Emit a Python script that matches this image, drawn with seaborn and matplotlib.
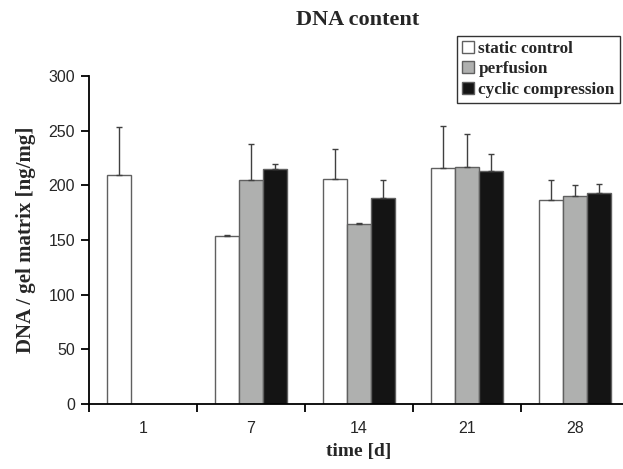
import matplotlib
matplotlib.use("Agg")
import matplotlib.pyplot as plt
import numpy as np
import pandas as pd
import seaborn as sns

# values
days = ["1", "7", "14", "21", "28"]
groups = ["static control", "perfusion", "cyclic compression"]
static_control = [209, 154, 206, 216, 187]
perfusion = [np.nan, 205, 165, 217, 190]
cyclic_compression = [np.nan, 215, 188, 213, 193]
static_err = [44, 1, 27, 38, 18]
perfusion_err = [np.nan, 33, 0.6, 30, 10]
cyclic_err = [np.nan, 4.5, 17, 16, 8]

values = [static_control, perfusion, cyclic_compression]
errors = [static_err, perfusion_err, cyclic_err]
colors = ["#ffffff", "#afb0af", "#141414"]

rows = []
for g, vals, errs in zip(groups, values, errors):
    for d, v, e in zip(days, vals, errs):
        rows.append({"time": d, "group": g, "dna": v, "err": e})
df = pd.DataFrame(rows).dropna()

sns.set_style("ticks")
serif = ["Liberation Serif", "DejaVu Serif"]
plt.rcParams["font.family"] = ["Liberation Sans", "DejaVu Sans"]

fig = plt.figure(figsize=(6.23, 4.69), dpi=100)
ax = fig.add_axes([89 / 623, 65 / 469, 540 / 623, 328 / 469])

sns.barplot(data=df, x="time", y="dna", hue="group", order=days,
            hue_order=groups, palette=colors, width=0.667, errorbar=None,
            edgecolor="#606060", linewidth=1.0, saturation=1, ax=ax)

# upward-only error bars
for g, cont in zip(groups, ax.containers):
    sub = df[df["group"] == g].copy()
    sub["pos"] = sub["time"].map(days.index)
    sub = sub.sort_values("pos")
    xs = [b.get_x() + b.get_width() / 2 for b in cont]
    hs = [b.get_height() for b in cont]
    ax.errorbar(xs, hs, yerr=[np.zeros(len(xs)), sub["err"].values],
                fmt="none", ecolor="#404040", elinewidth=1.0, capsize=2.5,
                capthick=1.0, zorder=1)

ax.set_ylim(0, 300)
ax.set_xlim(-0.5, 4.5)
ax.set_yticks(range(0, 301, 50))
ax.set_xticks(range(len(days)))
ax.set_xticklabels(days)
ax.set_xticks(np.arange(-0.5, 4.5, 1.0), minor=True)
ax.tick_params(axis="x", which="major", length=0, labelsize=11.5, pad=12)
ax.tick_params(axis="x", which="minor", length=6, width=1.3, color="black")
ax.tick_params(axis="y", length=6, width=1.3, color="black", labelsize=11.5,
               pad=4)
for s in ["top", "right"]:
    ax.spines[s].set_visible(False)
for s in ["left", "bottom"]:
    ax.spines[s].set_linewidth(1.3)
    ax.spines[s].set_color("black")

ax.set_xlabel("time [d]", family=serif, fontweight="bold", fontsize=14,
              labelpad=5)
ax.set_ylabel("DNA / gel matrix [ng/mg]", family=serif, fontweight="bold",
              fontsize=15, labelpad=9)
fig.text(358 / 623, 1 - 20 / 469, "DNA content", family=serif,
         fontweight="bold", fontsize=16, ha="center", va="center")

handles, labels = ax.get_legend_handles_labels()
leg = ax.legend(handles, labels, loc="upper left",
                bbox_to_anchor=(457 / 623, 1 - 36 / 469),
                bbox_transform=fig.transFigure, frameon=True, fancybox=False,
                edgecolor="black", handlelength=0.7, handleheight=0.7,
                handletextpad=0.25, labelspacing=0.25, borderpad=0.3,
                borderaxespad=0, prop={"family": serif, "weight": "bold",
                                       "size": 12.3})
leg.get_frame().set_linewidth(1.0)

fig.savefig("out.png", dpi=100)
